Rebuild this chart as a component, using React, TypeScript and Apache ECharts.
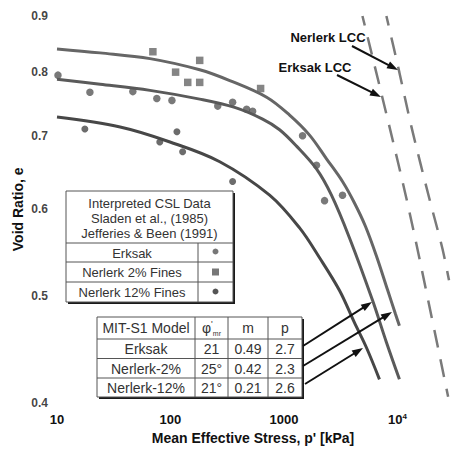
import React, { useEffect, useRef } from 'react';
import * as echarts from 'echarts';

// ---- axis ticks ----
const xMin = 10;
const xMax = 28500;
const yMin = 0.4;
const yMax = 0.9;
const yTickLabels = [0.4, 0.5, 0.6, 0.7, 0.8, 0.9];

// ---- CSL curves (p' [kPa], e) ----
const nerlerk2Curve: [number, number][] = [
  [10, 0.840], [24, 0.833], [66, 0.823], [181, 0.804], [333, 0.786], [704, 0.759],
  [1122, 0.731], [1682, 0.701], [2373, 0.667], [3283, 0.636], [4185, 0.608],
  [5227, 0.579], [6535, 0.544], [8174, 0.507], [9600, 0.482], [10420, 0.470],
];
const erksakCurve: [number, number][] = [
  [10, 0.788], [24, 0.780], [66, 0.770], [181, 0.756], [368, 0.743], [649, 0.725],
  [916, 0.709], [1292, 0.685], [1936, 0.653], [2624, 0.618], [3785, 0.565],
  [6026, 0.496], [8000, 0.454], [10420, 0.420],
];
const nerlerk12Curve: [number, number][] = [
  [10, 0.728], [36, 0.713], [99, 0.691], [272, 0.663], [748, 0.618], [1374, 0.577],
  [2061, 0.542], [3090, 0.506], [4185, 0.473], [5333, 0.449], [6950, 0.420],
];

// ---- LCC dashed lines ----
const erksakLCC: [number, number][] = [
  [4920, 0.9], [8500, 0.714], [12000, 0.614], [15600, 0.542], [28000, 0.405],
];
const nerlerkLCC: [number, number][] = [
  [8000, 0.9], [10400, 0.8], [13270, 0.714], [19100, 0.614], [24900, 0.553], [28500, 0.517],
];

// ---- measured points ----
const erksakPoints: [number, number][] = [
  [10.2, 0.795], [19.5, 0.767], [46.6, 0.768], [75.8, 0.757], [103, 0.754], [261, 0.745],
  [353, 0.751], [469, 0.740], [530, 0.737], [1459, 0.700], [1936, 0.658], [2281, 0.611],
  [3283, 0.618],
];
const nerlerk2Points: [number, number][] = [
  [70, 0.835], [181, 0.820], [111, 0.800], [142, 0.783], [181, 0.783], [623, 0.773],
];
const nerlerk12Points: [number, number][] = [
  [17.6, 0.710], [114, 0.706], [80.5, 0.691], [128, 0.677], [353, 0.636],
];

// ---- table texts ----
const cslHeader = ['Interpreted CSL Data', 'Sladen et al., (1985)', 'Jefferies & Been (1991)'];
const cslRows = ['Erksak', 'Nerlerk 2% Fines', 'Nerlerk 12% Fines'];
const modelHeader = ['MIT-S1 Model', 'phi', 'm', 'p'];
const modelRows = [
  ['Erksak', '21', '0.49', '2.7'],
  ['Nerlerk-2%', '25°', '0.42', '2.3'],
  ['Nerlerk-12%', '21°', '0.21', '2.6'],
];

const FONT = '"Liberation Sans", Arial, Helvetica, sans-serif';

function txt(x: number, y: number, text: string, size: number, extra: any = {}) {
  return {
    type: 'text', x, y, z: 20,
    style: {
      text, fill: '#333', fontSize: size, fontFamily: FONT,
      align: 'center', verticalAlign: 'middle', ...extra,
    },
  };
}
function hline(x1: number, x2: number, y: number, w = 1) {
  return { type: 'line', z: 20, shape: { x1, y1: y, x2, y2: y }, style: { stroke: '#555', lineWidth: w } };
}
function vline(x: number, y1: number, y2: number, w = 1) {
  return { type: 'line', z: 20, shape: { x1: x, y1, x2: x, y2 }, style: { stroke: '#555', lineWidth: w } };
}
function arrow(x1: number, y1: number, x2: number, y2: number, head = 11, half = 3.8) {
  const dx = x2 - x1, dy = y2 - y1, len = Math.hypot(dx, dy);
  const ux = dx / len, uy = dy / len;
  const bx = x2 - ux * head, by = y2 - uy * head;
  return [
    { type: 'line', z: 21, shape: { x1, y1, x2: bx + ux * 2, y2: by + uy * 2 }, style: { stroke: '#111', lineWidth: 2 } },
    {
      type: 'polygon', z: 21,
      shape: { points: [[x2, y2], [bx - uy * half, by + ux * half], [bx + uy * half, by - ux * half]] },
      style: { fill: '#111' },
    },
  ];
}
function boxWithShadow(x: number, y: number, w: number, h: number) {
  return [
    { type: 'rect', z: 19, shape: { x: x + 2, y: y + 2, width: w, height: h }, style: { fill: '#1a1a1a' } },
    { type: 'rect', z: 19, shape: { x, y, width: w, height: h }, style: { fill: '#fff', stroke: '#555', lineWidth: 1 } },
  ];
}

function buildGraphics() {
  const g: any[] = [];
  // CSL data table
  const t1 = { x0: 66, x1: 198, x2: 233, rows: [191, 243, 262, 282, 302] };
  g.push(...boxWithShadow(t1.x0, t1.rows[0], t1.x2 - t1.x0, t1.rows[4] - t1.rows[0]));
  g.push(hline(t1.x0, t1.x2, t1.rows[1]), hline(t1.x0, t1.x2, t1.rows[2]), hline(t1.x0, t1.x2, t1.rows[3]));
  g.push(vline(t1.x1, t1.rows[1], t1.rows[4]));
  const hy = [203, 218, 233];
  cslHeader.forEach((s, i) => g.push(txt((t1.x0 + t1.x2) / 2, hy[i], s, 13)));
  cslRows.forEach((s, i) => g.push(txt((t1.x0 + t1.x1) / 2, (t1.rows[i + 1] + t1.rows[i + 2]) / 2 + 0.5, s, 13)));
  const ic = (t1.x1 + t1.x2) / 2;
  g.push({ type: 'circle', z: 20, shape: { cx: ic, cy: 251.5, r: 3 }, style: { fill: '#777' } });
  g.push({ type: 'rect', z: 20, shape: { x: ic - 3.5, y: 268.5, width: 7, height: 7 }, style: { fill: '#777' } });
  g.push({ type: 'circle', z: 20, shape: { cx: ic, cy: 291.5, r: 3 }, style: { fill: '#555' } });

  // MIT-S1 model table
  const cx = [97, 195, 228, 268, 302];
  const ry = [317, 339, 358.5, 378, 397];
  g.push(...boxWithShadow(cx[0], ry[0], cx[4] - cx[0], ry[4] - ry[0]));
  g.push(hline(cx[0], cx[4], ry[1]), hline(cx[0], cx[4], ry[2]), hline(cx[0], cx[4], ry[3]));
  g.push(vline(cx[1], ry[0], ry[4]), vline(cx[2], ry[0], ry[4]), vline(cx[3], ry[0], ry[4]));
  const hcy = (ry[0] + ry[1]) / 2;
  g.push(txt((cx[0] + cx[1]) / 2, hcy, modelHeader[0], 14));
  g.push({
    type: 'text', z: 20, x: (cx[1] + cx[2]) / 2, y: hcy,
    style: {
      text: "{a|φ}{b|'}{c|mr}", align: 'center', verticalAlign: 'middle', fill: '#333',
      rich: {
        a: { fontSize: 14, fontFamily: FONT, fill: '#333', lineHeight: 18 },
        b: { fontSize: 9, fontFamily: FONT, fill: '#333', verticalAlign: 'top', lineHeight: 18 },
        c: { fontSize: 7, fontFamily: FONT, fill: '#333', verticalAlign: 'bottom', lineHeight: 18 },
      },
    },
  });
  g.push(txt((cx[2] + cx[3]) / 2, hcy, modelHeader[2], 14));
  g.push(txt((cx[3] + cx[4]) / 2, hcy, modelHeader[3], 14));
  modelRows.forEach((row, r) => {
    const y = (ry[r + 1] + ry[r + 2]) / 2 + 0.5;
    row.forEach((s, c) => g.push(txt((cx[c] + cx[c + 1]) / 2, y, s, 14)));
  });

  // arrows from model table to curves
  g.push(...arrow(303, 346, 372, 302));
  g.push(...arrow(303, 366, 392, 312));
  g.push(...arrow(305, 384, 363, 348));

  // LCC labels and arrows
  g.push(txt(328, 37, 'Nerlerk LCC', 13, { fontWeight: 'bold', fill: '#111' }));
  g.push(txt(315, 67, 'Erksak LCC', 13, { fontWeight: 'bold', fill: '#111' }));
  g.push(...arrow(352, 46, 398, 70));
  g.push(...arrow(337, 75, 381, 97));
  return g;
}

export default function App() {
  const ref = useRef<HTMLDivElement>(null);
  useEffect(() => {
    if (!ref.current) return;
    const chart = echarts.init(ref.current, undefined, { renderer: 'svg' });
    const curve = (name: string, data: [number, number][], color: string) => ({
      type: 'line', name, data, smooth: 0.35, showSymbol: false,
      lineStyle: { color, width: 3 }, silent: true,
    });
    const option: any = {
      animation: false,
      backgroundColor: '#fff',
      grid: { left: 57, right: 2, top: 16, bottom: 44 },
      xAxis: {
        type: 'log', logBase: 10, min: xMin, max: xMax,
        name: "Mean Effective Stress, p' [kPa]",
        nameLocation: 'middle', nameGap: 25,
        nameTextStyle: { fontFamily: FONT, fontWeight: 'bold', fontSize: 14, color: '#111' },
        axisLine: { show: false }, axisTick: { show: false }, splitLine: { show: false },
        axisLabel: {
          margin: 10, fontFamily: FONT, fontWeight: 'bold', fontSize: 13, color: '#111',
          formatter: (v: number) => {
            const l = Math.log10(v);
            if (Math.abs(l - Math.round(l)) > 1e-6) return '';
            const n = Math.round(l);
            if (n >= 4) return '10{sup|' + n + '}';
            return String(Math.round(v));
          },
          rich: { sup: { fontSize: 8, fontWeight: 'bold', fontFamily: FONT, color: '#111', verticalAlign: 'top', padding: [0, 0, 6, 0] } },
        },
      },
      yAxis: {
        type: 'log', logBase: 10, min: yMin, max: yMax,
        name: 'Void Ratio, e', nameLocation: 'middle', nameGap: 32,
        nameTextStyle: { fontFamily: FONT, fontWeight: 'bold', fontSize: 14, color: '#111' },
        axisLine: { show: false }, axisTick: { show: false }, splitLine: { show: false },
        axisLabel: { show: false },
      },
      series: [
        curve('Nerlerk 2% CSL', nerlerk2Curve, '#666666'),
        curve('Erksak CSL', erksakCurve, '#5a5a5a'),
        curve('Nerlerk 12% CSL', nerlerk12Curve, '#474747'),
        { type: 'line', name: 'Erksak LCC', data: erksakLCC, smooth: 0.3, showSymbol: false, lineStyle: { color: '#7a7a7a', width: 2.5, type: [18, 12], dashOffset: 8 }, silent: true },
        { type: 'line', name: 'Nerlerk LCC', data: nerlerkLCC, smooth: 0.3, showSymbol: false, lineStyle: { color: '#7a7a7a', width: 2.5, type: [18, 12], dashOffset: 8 }, silent: true },
        { type: 'scatter', name: 'Erksak', data: erksakPoints, symbol: 'circle', symbolSize: 7.5, itemStyle: { color: '#585858' }, z: 3 },
        { type: 'scatter', name: 'Nerlerk 2% Fines', data: nerlerk2Points, symbol: 'rect', symbolSize: 7.5, itemStyle: { color: '#666666' }, z: 3 },
        { type: 'scatter', name: 'Nerlerk 12% Fines', data: nerlerk12Points, symbol: 'circle', symbolSize: 7, itemStyle: { color: '#474747' }, z: 3 },
        {
          type: 'scatter', name: 'yTicks', data: yTickLabels.map((v) => [xMin, v]),
          symbolSize: 0, silent: true, clip: false,
          label: {
            show: true, position: 'left', distance: 9,
            formatter: (p: any) => p.value[1].toFixed(1),
            fontFamily: FONT, fontWeight: 'bold', fontSize: 12, color: '#111',
          },
        },
      ],
      graphic: buildGraphics(),
    };
    chart.setOption(option);
    return () => chart.dispose();
  }, []);
  return (
    <div
      ref={ref}
      style={{ position: 'fixed', left: 0, top: 0, width: 452, height: 450, background: '#fff' }}
    />
  );
}
